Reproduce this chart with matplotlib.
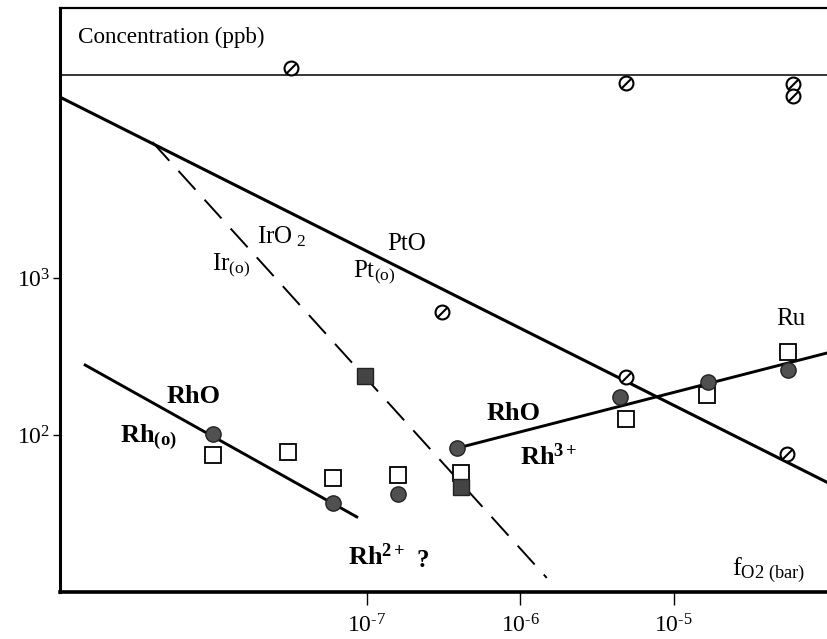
import matplotlib
matplotlib.use('Agg')
import matplotlib.pyplot as plt

# ---------------------------------------------
# Concentração de Pt, Ir, Rh, Ru vs fO2 (log-log)
# ---------------------------------------------

plt.rcParams['font.family'] = 'Liberation Serif'
plt.rcParams['mathtext.fontset'] = 'custom'
plt.rcParams['mathtext.rm'] = 'Liberation Serif'
plt.rcParams['mathtext.it'] = 'Liberation Serif:italic'
plt.rcParams['mathtext.bf'] = 'Liberation Serif:bold'

# Pt data (circle with slash)
pt_fo2 = [3.2e-8, 4.9e-6, 6.0e-5, 6.0e-5, 3.1e-7, 4.9e-6, 5.45e-5]
pt_ppb = [21800, 17500, 17200, 14400, 607, 234, 76]

# Rh data (filled circles)
rh_fo2 = [1.0e-8, 6.0e-8, 1.6e-7, 3.9e-7, 4.5e-6, 1.67e-5, 5.6e-5]
rh_ppb = [101, 36.9, 42.1, 82.6, 175, 218, 259]

# Ir data (filled squares)
ir_fo2 = [9.8e-8, 4.1e-7]
ir_ppb = [238, 46.7]

# Ru data (open squares)
ru_fo2 = [1.0e-8, 3.05e-8, 6.0e-8, 1.6e-7, 4.1e-7, 4.9e-6, 1.64e-5, 5.6e-5]
ru_ppb = [74.6, 78.0, 53.2, 55.6, 57.3, 126, 180, 338]

# solubility model lines
pt_line_x = [1e-9, 1e-4]
pt_line_y = [14200, 50]
ir_line_x = [4.0e-9, 1.49e-6]
ir_line_y = [7350, 12.3]
rh_low_x = [1.46e-9, 8.6e-8]
rh_low_y = [279, 30.1]
rh_high_x = [3.9e-7, 1e-4]
rh_high_y = [82.6, 333]
limit_ppb = 19600

x_ticks = [1e-7, 1e-6, 1e-5]
x_ticklabels = ['$10^{\u20107}$', '$10^{\u20106}$', '$10^{\u20105}$']
y_ticks = [1e2, 1e3]
y_ticklabels = [r'$10^2$', r'$10^3$']

fig = plt.figure(figsize=(8.27, 6.39), dpi=100)
ax = fig.add_axes([60 / 827, 1 - 592 / 639, 767 / 827, 584 / 639])
ax.set_xscale('log')
ax.set_yscale('log')
ax.set_xlim(1e-9, 1e-4)
ax.set_ylim(10, 10 ** 4.72)

ax.axhline(limit_ppb, color='black', lw=1.1)
ax.plot(pt_line_x, pt_line_y, color='black', lw=2.2)
ax.plot(ir_line_x, ir_line_y, color='black', lw=1.4, dashes=(13, 7))
ax.plot(rh_low_x, rh_low_y, color='black', lw=2.1)
ax.plot(rh_high_x, rh_high_y, color='black', lw=2.1)

# marcadores
ax.plot(ru_fo2, ru_ppb, 's', ms=12, mfc='white', mec='black', mew=1.3, zorder=3)
ax.plot(rh_fo2, rh_ppb, 'o', ms=11, mfc='#505050', mec='#222222', mew=1.0, zorder=4)
ax.plot(ir_fo2, ir_ppb, 's', ms=11.5, mfc='#444444', mec='#222222', mew=1.0, zorder=4)
ax.plot(pt_fo2, pt_ppb, 'o', ms=10, mfc='white', mec='black', mew=1.5, zorder=5)
ax.plot(pt_fo2, pt_ppb, ls='none', marker=[(-1, -1), (1, 1)], ms=7, mec='black', mew=1.5, zorder=6)

# textos
ax.text(1.32e-9, 31500, 'Concentration (ppb)', fontsize=16.7, va='baseline')
ax.text(1.92e-8, 1671, r'IrO$_{\ 2}$', fontsize=18, va='baseline')
ax.text(9.8e-9, 1125, r'Ir$_{(\mathrm{o})}$', fontsize=18, va='baseline')
ax.text(1.35e-7, 1507, 'PtO', fontsize=18, va='baseline')
ax.text(8.1e-8, 1014, r'Pt$_{(\mathrm{o})}$', fontsize=18, va='baseline')
ax.text(4.69e-5, 502, 'Ru', fontsize=18, va='baseline')
ax.text(4.98e-9, 160, 'RhO', fontsize=19, fontweight='bold', va='baseline')
ax.text(2.46e-9, 90.2, r'$\mathbf{Rh}_{\mathbf{(o)}}$', fontsize=19, va='baseline')
ax.text(6.05e-7, 125, 'RhO', fontsize=19, fontweight='bold', va='baseline')
ax.text(9.93e-7, 64.4, r'$\mathbf{Rh}^{\mathbf{3+}}$', fontsize=19, va='baseline')
ax.text(7.5e-8, 14.9, r'$\mathbf{Rh}^{\mathbf{2+}}$', fontsize=19, va='baseline')
ax.text(2.12e-7, 14.4, '?', fontsize=18, fontweight='bold', va='baseline')
ax.text(2.42e-5, 12.8, r'f$_{\mathrm{O2\ (bar)}}$', fontsize=19, va='baseline')

# eixos
ax.set_xticks(x_ticks)
ax.set_xticklabels(x_ticklabels)
ax.set_yticks(y_ticks)
ax.set_yticklabels(y_ticklabels)
ax.minorticks_off()
ax.tick_params(axis='x', direction='out', length=9, width=1.0, labelsize=17, pad=7)
ax.tick_params(axis='y', direction='out', length=5, width=1.0, labelsize=17, pad=2)
ax.spines['right'].set_visible(False)
ax.spines['top'].set_linewidth(1.6)
ax.spines['left'].set_linewidth(2.2)
ax.spines['bottom'].set_linewidth(2.6)

plt.savefig('out.png', dpi=100)
plt.close()
